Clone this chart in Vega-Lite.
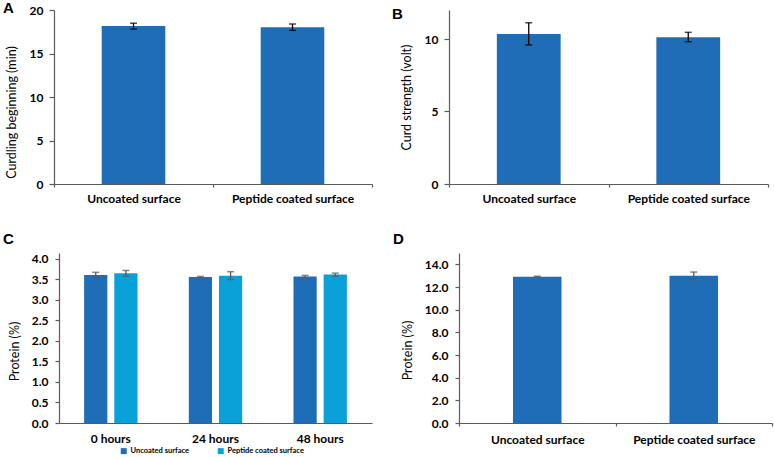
{
  "$schema": "https://vega.github.io/schema/vega-lite/v6.json",
  "autosize": {"type": "none"},
  "padding": {"left": 54, "top": 10, "right": 720, "bottom": 447},
  "background": "white",
  "config": {
    "view": {"stroke": null},
    "axis": {
      "grid": false, "labelOverlap": false,
      "labelFont": "Lato", "labelFontWeight": "bold", "labelFontSize": 12, "labelColor": "#000000",
      "titleFont": "Lato", "titleFontWeight": "normal", "titleFontSize": 12.5, "titleColor": "#000000",
      "domainColor": "#5a5a5a", "tickColor": "#5a5a5a", "domainWidth": 1.2, "tickWidth": 1.2
    },
    "title": {"font": "Liberation Sans", "fontSize": 15, "fontWeight": "bold", "color": "#000000", "anchor": "start", "frame": "group", "offset": 0, "baseline": "alphabetic"}
  },
  "columns": 2,
  "spacing": {"row": 69, "column": 77},
  "bounds": "flush",
  "concat": [
    {
      "width": 318, "height": 174,
      "title": {"text": "A", "dx": -51, "dy": 16},
      "data": {"values": [
        {"cond": "Uncoated surface", "v": 18.16, "lo": 17.8, "hi": 18.48},
        {"cond": "Peptide coated surface", "v": 18.02, "lo": 17.66, "hi": 18.39}
      ]},
      "encoding": {
        "x": {"field": "cond", "type": "nominal", "sort": null, "scale": {"paddingInner": 0, "paddingOuter": 0},
              "axis": {"title": null, "labelAngle": 0, "tickBand": "extent", "tickSize": 3, "labelPadding": 6}}
      },
      "layer": [
        {"mark": {"type": "bar", "color": "#1f6db7", "width": {"band": 0.4}},
         "encoding": {"y": {"field": "v", "type": "quantitative", "title": "Curdling beginning (min)",
           "scale": {"domain": [0, 20], "nice": false},
           "axis": {"values": [0, 5, 10, 15, 20], "labelOverlap": false, "tickSize": 5, "labelPadding": 6, "titlePadding": 11, "titleY": 102}}}},
        {"mark": {"type": "errorbar", "color": "#000000", "thickness": 1.3, "ticks": {"size": 7, "thickness": 1.5, "color": "#000000"}},
         "encoding": {"y": {"field": "lo", "type": "quantitative", "title": "Curdling beginning (min)"}, "y2": {"field": "hi"}}}
      ]
    },
    {
      "width": 319, "height": 174,
      "title": {"text": "B", "dx": -57, "dy": 16},
      "data": {"values": [
        {"cond": "Uncoated surface", "v": 10.34, "lo": 9.59, "hi": 11.12},
        {"cond": "Peptide coated surface", "v": 10.12, "lo": 9.81, "hi": 10.46}
      ]},
      "encoding": {
        "x": {"field": "cond", "type": "nominal", "sort": null, "scale": {"paddingInner": 0, "paddingOuter": 0},
              "axis": {"title": null, "labelAngle": 0, "tickBand": "extent", "tickSize": 3, "labelPadding": 6}}
      },
      "layer": [
        {"mark": {"type": "bar", "color": "#1f6db7", "width": {"band": 0.4}},
         "encoding": {"y": {"field": "v", "type": "quantitative", "title": "Curd strength (volt)",
           "scale": {"domain": [0, 12], "nice": false},
           "axis": {"values": [0, 5, 10], "labelOverlap": false, "tickSize": 5, "labelPadding": 6, "titlePadding": 11}}}},
        {"mark": {"type": "errorbar", "color": "#000000", "thickness": 1.3, "ticks": {"size": 7, "thickness": 1.5, "color": "#000000"}},
         "encoding": {"y": {"field": "lo", "type": "quantitative", "title": "Curd strength (volt)"}, "y2": {"field": "hi"}}}
      ]
    },
    {
      "width": 318, "height": 170,
      "title": {"text": "C", "dx": -51, "dy": -2},
      "data": {"values": [
        {"time": "0 hours", "grp": "Uncoated surface", "v": 3.61, "lo": 3.545, "hi": 3.675},
        {"time": "0 hours", "grp": "Peptide coated surface", "v": 3.65, "lo": 3.58, "hi": 3.72},
        {"time": "24 hours", "grp": "Uncoated surface", "v": 3.56, "lo": 3.54, "hi": 3.575},
        {"time": "24 hours", "grp": "Peptide coated surface", "v": 3.59, "lo": 3.5, "hi": 3.69},
        {"time": "48 hours", "grp": "Uncoated surface", "v": 3.57, "lo": 3.54, "hi": 3.6},
        {"time": "48 hours", "grp": "Peptide coated surface", "v": 3.62, "lo": 3.585, "hi": 3.655}
      ]},
      "encoding": {
        "x": {"field": "time", "type": "nominal", "sort": null,
              "scale": {"range": [5, 318], "paddingInner": 0.49, "paddingOuter": 0.24},
              "axis": {"title": null, "labelAngle": 0, "ticks": false, "labelPadding": 10}},
        "xOffset": {"field": "grp", "type": "nominal", "sort": null, "scale": {"paddingInner": 0.23, "paddingOuter": 0}}
      },
      "layer": [
        {"mark": {"type": "bar"},
         "encoding": {
           "y": {"field": "v", "type": "quantitative", "title": "Protein (%)",
             "scale": {"domain": [0, 4.146], "nice": false},
             "axis": {"values": [0, 0.5, 1, 1.5, 2, 2.5, 3, 3.5, 4], "labelOverlap": false, "format": ".1f", "offset": -5, "tickSize": 4, "labelPadding": 7, "titlePadding": 10, "titleY": 98}},
           "color": {"field": "grp", "type": "nominal", "sort": null,
             "scale": {"domain": ["Uncoated surface", "Peptide coated surface"], "range": ["#1f6db7", "#0aa0d8"]},
             "legend": {"title": null, "orient": "none", "legendX": 66, "legendY": 437, "direction": "horizontal",
               "labelFont": "Lato", "labelFontSize": 7.5, "labelFontWeight": "bold", "labelColor": "#000000",
               "symbolType": "square", "symbolSize": 36, "symbolStrokeWidth": 0, "columnPadding": 28, "padding": 0, "labelOffset": 3}}
         }},
        {"mark": {"type": "rule", "color": "#595959", "strokeWidth": 1.3},
         "encoding": {"y": {"field": "lo", "type": "quantitative", "title": "Protein (%)", "axis": {"values": [0, 0.5, 1, 1.5, 2, 2.5, 3, 3.5, 4], "labelOverlap": false, "format": ".1f", "offset": -5, "tickSize": 4, "labelPadding": 7, "titlePadding": 10, "titleY": 98}}, "y2": {"field": "hi"}}},
        {"mark": {"type": "tick", "color": "#595959", "size": 7, "thickness": 1.5},
         "encoding": {"y": {"field": "lo", "type": "quantitative", "title": "Protein (%)", "axis": {"values": [0, 0.5, 1, 1.5, 2, 2.5, 3, 3.5, 4], "labelOverlap": false, "format": ".1f", "offset": -5, "tickSize": 4, "labelPadding": 7, "titlePadding": 10, "titleY": 98}}}},
        {"mark": {"type": "tick", "color": "#595959", "size": 7, "thickness": 1.5},
         "encoding": {"y": {"field": "hi", "type": "quantitative", "title": "Protein (%)", "axis": {"values": [0, 0.5, 1, 1.5, 2, 2.5, 3, 3.5, 4], "labelOverlap": false, "format": ".1f", "offset": -5, "tickSize": 4, "labelPadding": 7, "titlePadding": 10, "titleY": 98}}}}
      ]
    },
    {
      "width": 323, "height": 170,
      "title": {"text": "D", "dx": -56, "dy": -2},
      "data": {"values": [
        {"cond": "Uncoated surface", "v": 12.9, "lo": 12.85, "hi": 12.95},
        {"cond": "Peptide coated surface", "v": 13.0, "lo": 12.65, "hi": 13.32}
      ]},
      "encoding": {
        "x": {"field": "cond", "type": "nominal", "sort": null, "scale": {"range": [10, 323], "paddingInner": 0, "paddingOuter": 0},
              "axis": {"title": null, "labelAngle": 0, "tickBand": "extent", "tickSize": 3, "labelPadding": 8}}
      },
      "layer": [
        {"mark": {"type": "bar", "color": "#1f6db7", "width": {"band": 0.31}},
         "encoding": {"y": {"field": "v", "type": "quantitative", "title": "Protein (%)",
           "scale": {"domain": [0, 15], "nice": false},
           "axis": {"values": [0, 2, 4, 6, 8, 10, 12, 14], "labelOverlap": false, "format": ".1f", "offset": -10, "tickSize": 4, "labelPadding": 7, "titlePadding": 10, "titleY": 97}}}},
        {"mark": {"type": "errorbar", "color": "#595959", "thickness": 1.3, "ticks": {"size": 7, "thickness": 1.5, "color": "#595959"}},
         "encoding": {"y": {"field": "lo", "type": "quantitative", "title": "Protein (%)", "axis": {"values": [0, 2, 4, 6, 8, 10, 12, 14], "labelOverlap": false, "format": ".1f", "offset": -10, "tickSize": 4, "labelPadding": 7, "titlePadding": 10, "titleY": 97}}, "y2": {"field": "hi"}}}
      ]
    }
  ]
}
